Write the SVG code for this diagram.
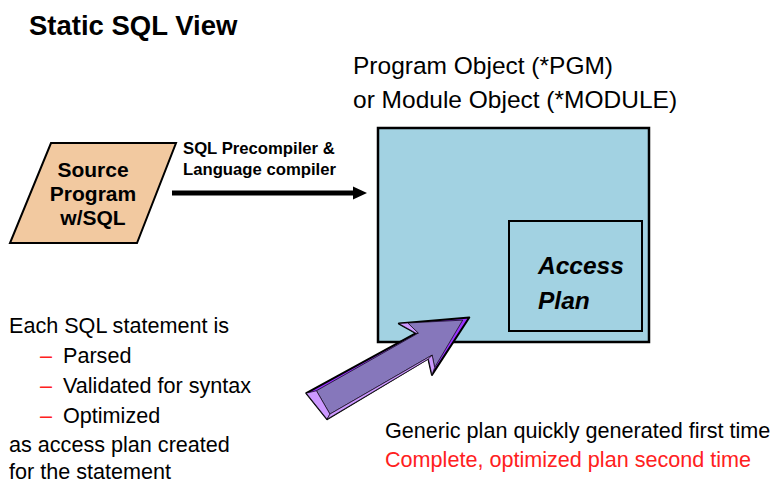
<svg xmlns="http://www.w3.org/2000/svg" width="777" height="485" viewBox="0 0 777 485">
  <style>
    text { font-family: "Liberation Sans", Arial, sans-serif; fill: #000; }
    .title { font-size: 27.5px; font-weight: bold; }
    .obj { font-size: 24.5px; }
    .lbl { font-size: 16.7px; font-weight: bold; }
    .src { font-size: 21px; font-weight: bold; }
    .plan { font-size: 24.5px; font-weight: bold; font-style: italic; }
    .body { font-size: 21.6px; }
    .red { fill: #ff2020; }
    .box { fill: #a2d2e2; stroke: #000; stroke-width: 2.5; }
    .inner { fill: none; stroke: #000; stroke-width: 2; }
    .para { fill: #f2c9a0; stroke: #000; stroke-width: 2; }
    .lav { fill: #cc99ff; stroke: #000; stroke-width: 0.6; }
  </style>

  <text class="title" x="29" y="35">Static SQL View</text>

  <g id="object-label">
    <text class="obj" x="353" y="74">Program Object (*PGM)</text>
    <text class="obj" x="353" y="108">or Module Object (*MODULE)</text>
  </g>

  <g id="program-object">
    <rect class="box" x="378" y="128" width="271" height="214"/>
  </g>

  <g id="access-plan">
    <rect class="inner" x="509" y="221" width="133" height="110"/>
    <text class="plan" x="538" y="274">Access</text>
    <text class="plan" x="538" y="309">Plan</text>
  </g>

  <g id="source-program">
    <polygon class="para" points="51,143 176,143 137,243 10,243"/>
    <text class="src" text-anchor="middle" x="93" y="177">Source</text>
    <text class="src" text-anchor="middle" x="93" y="201">Program</text>
    <text class="src" text-anchor="middle" x="93" y="225">w/SQL</text>
  </g>

  <g id="connectors">
    <line x1="172" y1="193" x2="355" y2="193" stroke="#000" stroke-width="5"/>
    <polygon points="353,186.5 367,193 353,199.5" fill="#000"/>
    <text class="lbl" x="183" y="154">SQL Precompiler &amp;</text>
    <text class="lbl" x="183" y="175">Language compiler</text>

    <!-- bevelled block arrow pointing into the object -->
    <g id="block-arrow" transform="translate(316,406) rotate(-30)">
      <polygon points="-2,-16 123,-13 113,-30 177,0 116,31 121,15 3,17" fill="#9933ff" stroke="#000" stroke-width="2" stroke-linejoin="round"/>
      <polygon points="8,-13 125,-12 121,-26 170,-1 122,26 126,14 8,14" fill="#8677bb" stroke="#000" stroke-width="0.6"/>
      <polygon class="lav" points="-2,-16 8,-13 8,14 3,17"/>
      <polygon class="lav" points="113,-30 121,-26 125,-12 123,-13"/>
      <polygon class="lav" points="121,15 126,14 122,26 116,31"/>
      <polygon class="lav" points="8,14 126,14 121,15.5 3,17"/>
    </g>
  </g>

  <g id="steps">
    <text class="body" x="9" y="333">Each SQL statement is</text>
    <text class="body red" x="40" y="363">–</text>
    <text class="body" x="63" y="363">Parsed</text>
    <text class="body red" x="40" y="393">–</text>
    <text class="body" x="63" y="393">Validated for syntax</text>
    <text class="body red" x="40" y="423">–</text>
    <text class="body" x="63" y="423">Optimized</text>
    <text class="body" x="9" y="452">as access plan created</text>
    <text class="body" x="9" y="479">for the statement</text>
  </g>

  <g id="notes">
    <text class="body" x="385" y="438">Generic plan quickly generated first time</text>
    <text class="body red" x="385" y="467">Complete, optimized plan second time</text>
  </g>
</svg>
